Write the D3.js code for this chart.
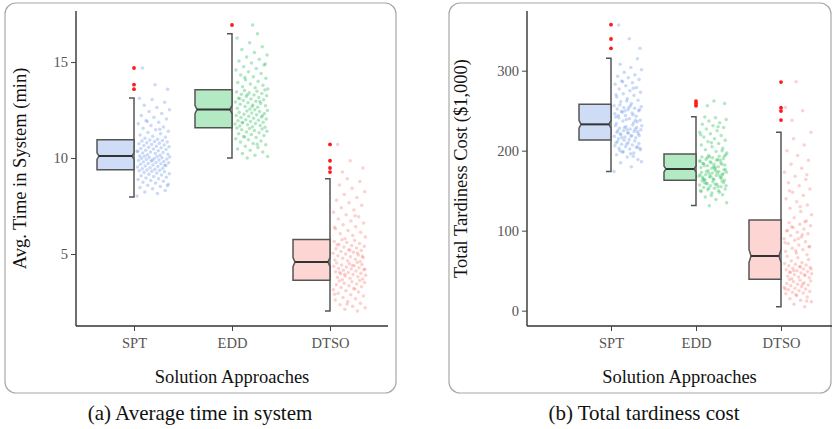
<!DOCTYPE html>
<html><head><meta charset="utf-8">
<script src="https://cdn.jsdelivr.net/npm/d3@7/dist/d3.min.js"></script>
<style>body{margin:0;background:#fff}svg{display:block}</style>
</head><body>
<svg id="c" width="833" height="429"></svg>
<script>
// ---------- data ----------
const categories = ["SPT", "EDD", "DTSO"];
const fills = ["#cfdcf5", "#b3eac3", "#fdd6d3"];
const pointColors = ["#6f9be8", "#2cbf5a", "#f7837b"];

// Panel (a): Avg. time in system (min)
const timeTicks = [5, 10, 15];
// box stats: [whiskerLow, Q1, median, Q3, whiskerHigh]
const timeBoxes = [
  [7.97, 9.39, 10.10, 10.95, 13.13],
  [10.00, 11.58, 12.53, 13.56, 16.48],
  [2.03, 3.63, 4.58, 5.76, 8.92]
];
const timeOutliers = [
  [14.69, 13.82, 13.59],
  [16.93],
  [10.71, 9.86, 9.48, 9.27]
];
const timeSPT = [8.02,8.15,8.23,8.31,8.40,8.46,8.52,8.58,8.63,8.70,8.74,8.79,8.83,8.88,8.92,8.96,9.00,9.04,9.08,9.11,9.15,9.18,9.22,9.25,9.28,9.31,9.34,9.36,9.38,8.55,
  9.41,9.44,9.47,9.50,9.53,9.56,9.59,9.61,9.64,9.67,9.70,9.72,9.75,9.77,9.80,9.82,9.85,9.87,9.90,9.92,9.95,9.97,9.99,10.01,10.03,10.05,10.07,10.09,9.62,9.88,
  10.11,10.14,10.17,10.20,10.23,10.26,10.29,10.32,10.35,10.38,10.41,10.44,10.47,10.50,10.53,10.56,10.59,10.62,10.65,10.68,10.71,10.74,10.77,10.80,10.83,10.86,10.89,10.92,10.94,10.36,
  10.98,11.03,11.08,11.14,11.20,11.26,11.33,11.40,11.47,11.55,11.62,11.70,11.78,11.86,11.95,12.04,12.13,12.22,12.32,12.42,12.52,12.63,12.75,12.90,13.05,13.12,11.50,11.90,13.59,13.82,14.69];
const timeEDD = [10.00,10.08,10.15,10.24,10.32,10.40,10.47,10.55,10.62,10.69,10.76,10.83,10.89,10.95,11.01,11.07,11.12,11.17,11.22,11.27,11.32,11.36,11.40,11.44,11.48,11.51,11.54,11.57,10.72,11.10,
  11.60,11.63,11.67,11.70,11.74,11.77,11.80,11.84,11.87,11.90,11.94,11.97,12.00,12.04,12.07,12.11,12.14,12.18,12.21,12.25,12.28,12.32,12.35,12.39,12.42,12.45,12.48,12.51,11.85,12.20,
  12.56,12.60,12.64,12.68,12.72,12.76,12.80,12.84,12.88,12.92,12.96,13.00,13.04,13.08,13.12,13.16,13.20,13.24,13.28,13.32,13.36,13.40,13.44,13.48,13.52,13.55,12.70,13.10,12.95,13.30,
  13.60,13.66,13.72,13.79,13.86,13.93,14.00,14.08,14.16,14.24,14.32,14.40,14.49,14.58,14.67,14.76,14.85,14.95,15.05,15.15,15.26,15.37,15.50,15.65,15.80,16.00,16.25,16.48,14.20,14.90,16.93];
const timeDTSO = [2.03,2.12,2.20,2.28,2.36,2.44,2.52,2.60,2.67,2.74,2.81,2.88,2.95,3.02,3.08,3.14,3.20,3.25,3.30,3.35,3.40,3.44,3.48,3.52,3.56,3.59,3.62,2.40,2.90,3.18,
  3.66,3.70,3.74,3.78,3.82,3.86,3.90,3.93,3.97,4.00,4.04,4.08,4.11,4.15,4.18,4.22,4.25,4.29,4.32,4.36,4.39,4.43,4.46,4.50,4.53,4.56,3.95,4.20,4.40,4.05,
  4.61,4.65,4.69,4.73,4.78,4.82,4.86,4.91,4.95,5.00,5.04,5.09,5.13,5.18,5.22,5.27,5.31,5.36,5.40,5.45,5.50,5.55,5.60,5.65,5.70,5.74,4.88,5.20,5.48,5.05,
  5.80,5.88,5.96,6.05,6.14,6.23,6.32,6.42,6.52,6.62,6.72,6.83,6.94,7.05,7.17,7.29,7.41,7.54,7.67,7.80,7.95,8.10,8.25,8.42,8.60,8.78,8.92,6.40,7.00,9.27,9.48,9.86,10.71];

// Panel (b): Total tardiness cost ($1,000)
const costTicks = [0, 100, 200, 300];
const costBoxes = [
  [173.8, 213.3, 232.9, 257.9, 315.4],
  [131.3, 162.9, 177.1, 195.8, 242.5],
  [5.0, 39.2, 68.3, 113.3, 222.9]
];
const costOutliers = [
  [357.5, 339.6, 327.9],
  [262, 259, 256],
  [285.8, 253.8, 249.6, 238.3]
];
const costSPT = [174,180,185,189,192,195,197,199,201,202,203,204,205,206,207,208,209,210,211,212,213,186,196,200,205,208,210,193,198,203,
  214,215,216,217,218,219,220,221,222,223,224,225,226,227,228,229,230,231,232,216,219,222,225,227,229,231,218,221,224,226,
  234,235,237,238,240,241,243,244,246,247,249,250,251,252,253,254,255,256,257,236,239,242,245,248,251,254,244,238,250,256,
  259,261,263,265,267,269,271,273,275,277,279,281,283,285,287,289,291,293,295,298,301,304,308,315,262,270,278,286,328,340,357];
const costEDD = [131,135,139,142,145,147,149,150,151,152,153,154,155,156,157,158,159,160,161,162,148,153,156,158,160,162,144,150,155,159,
  163,164,165,166,167,168,169,170,171,172,173,174,175,176,177,164,166,168,170,172,174,176,165,167,169,171,173,175,163,170,
  178,179,180,181,182,183,184,185,186,187,188,189,190,191,192,193,194,195,179,181,183,185,187,189,191,193,180,184,188,192,
  197,199,201,203,205,207,209,211,213,215,217,219,221,223,225,227,229,231,233,235,237,239,241,242,200,210,220,230,256,259,262];
const costDTSO = [5,8,11,13,15,17,19,21,22,23,24,25,26,27,28,29,30,31,32,33,34,35,36,37,38,39,12,20,27,33,
  40,41,42,43,44,45,46,47,48,49,50,51,52,53,54,55,56,57,58,59,60,62,64,66,68,45,50,52,55,48,
  70,72,74,76,78,80,82,84,86,88,90,92,94,96,98,100,102,104,106,108,110,112,75,85,95,105,80,90,100,111,
  116,120,124,128,132,136,140,144,148,152,156,160,164,168,173,178,183,188,194,200,207,215,223,130,150,170,286,254,250,238];

const xTitle = "Solution Approaches";

// ---------- drawing ----------
const svg = d3.select("#c");
const serif = "'Liberation Serif','Times New Roman',serif";

function panel(cfg) {
  const g = svg.append("g");
  g.append("rect").attr("x", cfg.frame[0]).attr("y", cfg.frame[1])
    .attr("width", cfg.frame[2]).attr("height", cfg.frame[3])
    .attr("rx", 11).attr("fill", "none").attr("stroke", "#a8a8a8").attr("stroke-width", 1.2);

  const y = d3.scaleLinear().domain(cfg.yDomain).range([cfg.plot.bottom, cfg.plot.top]);
  const x = d3.scalePoint().domain(categories).range(cfg.xRange);

  // axes
  const yAxis = g.append("g").attr("transform", `translate(${cfg.plot.left},0)`)
    .call(d3.axisLeft(y).tickValues(cfg.ticks).tickSize(5).tickPadding(3).tickSizeOuter(0));
  const xAxis = g.append("g").attr("transform", `translate(0,${cfg.plot.bottom})`)
    .call(d3.axisBottom(x).tickSize(5).tickPadding(3).tickSizeOuter(0));
  xAxis.select(".domain").attr("d", `M${cfg.plot.left},0H${cfg.plot.right}`);
  yAxis.select(".domain").attr("d", `M0,${cfg.plot.top}V${cfg.plot.bottom}`);
  [xAxis, yAxis].forEach(a => {
    a.select(".domain").attr("stroke", "#333").attr("stroke-width", 1.4);
    a.selectAll(".tick line").attr("stroke", "#444").attr("stroke-width", 1);
    a.selectAll(".tick text").attr("fill", "#555").style("font-family", serif).style("font-size", "14.5px");
  });
  xAxis.selectAll(".tick text").attr("dy", "0.95em");

  const bw = cfg.boxWidth;
  categories.forEach((c, i) => {
    const cx = x(c);
    const [wl, q1, md, q3, wh] = cfg.boxes[i];
    const nh = Math.abs(y(q1) - y(q3)) * 0.11;
    const ni = 2;
    // points
    cfg.values[i].forEach((v, k) => {
      const f = (k * 0.6180339887 + i * 0.37) % 1;
      g.append("circle").attr("cx", cx + cfg.jit[0] + f * cfg.jit[1]).attr("cy", y(v))
        .attr("r", 1.75).attr("fill", pointColors[i]).attr("fill-opacity", 0.37);
    });
    // whisker
    g.append("path")
      .attr("d", `M${cx - 5},${y(wh)}H${cx}V${y(wl)}H${cx - 5}`)
      .attr("fill", "none").attr("stroke", "#555").attr("stroke-width", 1.5);
    // notched box
    const L = cx - bw, R = cx;
    const d = `M${L},${y(q3)}H${R}V${y(md) - nh}L${R - ni},${y(md)}L${R},${y(md) + nh}V${y(q1)}H${L}V${y(md) + nh}L${L + ni},${y(md)}L${L},${y(md) - nh}Z`;
    g.append("path").attr("d", d).attr("fill", fills[i]).attr("stroke", "#555").attr("stroke-width", 1.5);
    g.append("line").attr("x1", L + ni).attr("x2", R - ni).attr("y1", y(md)).attr("y2", y(md))
      .attr("stroke", "#333").attr("stroke-width", 2);
    // outliers
    cfg.outliers[i].forEach(v => {
      g.append("circle").attr("cx", cx).attr("cy", y(v)).attr("r", 1.9).attr("fill", "#ff1a1a");
    });
  });

  // titles
  g.append("text").attr("x", (cfg.plot.left + cfg.plot.right) / 2).attr("y", 382.5)
    .attr("text-anchor", "middle").style("font-family", serif).style("font-size", "18.5px").attr("fill", "#111")
    .text(xTitle);
  g.append("text").attr("transform", `translate(${cfg.yTitleX},${(cfg.plot.top + cfg.plot.bottom) / 2}) rotate(-90)`)
    .attr("text-anchor", "middle").style("font-family", serif).style("font-size", "18.5px").attr("fill", "#111")
    .text(cfg.yTitle);
  g.append("text").attr("x", cfg.captionX).attr("y", 420).attr("text-anchor", "middle")
    .style("font-family", serif).style("font-size", "21px").attr("fill", "#111").text(cfg.caption);
}

panel({
  frame: [5, 3, 391, 390],
  plot: { left: 76, right: 388, top: 11, bottom: 326 },
  yDomain: [1.25, 17.66],
  ticks: timeTicks,
  xRange: [134, 330],
  boxWidth: 37,
  jit: [3, 33],
  boxes: timeBoxes,
  outliers: timeOutliers,
  values: [timeSPT, timeEDD, timeDTSO],
  yTitle: "Avg. Time in System (min)",
  yTitleX: 25.5,
  caption: "(a) Average time in system",
  captionX: 200
});
panel({
  frame: [449, 3, 382, 390],
  plot: { left: 527, right: 832, top: 11, bottom: 326 },
  yDomain: [-19.2, 374.6],
  ticks: costTicks,
  xRange: [611, 781],
  boxWidth: 32,
  jit: [3, 28],
  boxes: costBoxes,
  outliers: costOutliers,
  values: [costSPT, costEDD, costDTSO],
  yTitle: "Total Tardiness Cost ($1,000)",
  yTitleX: 467,
  caption: "(b) Total tardiness cost",
  captionX: 644
});
</script>
</body></html>
